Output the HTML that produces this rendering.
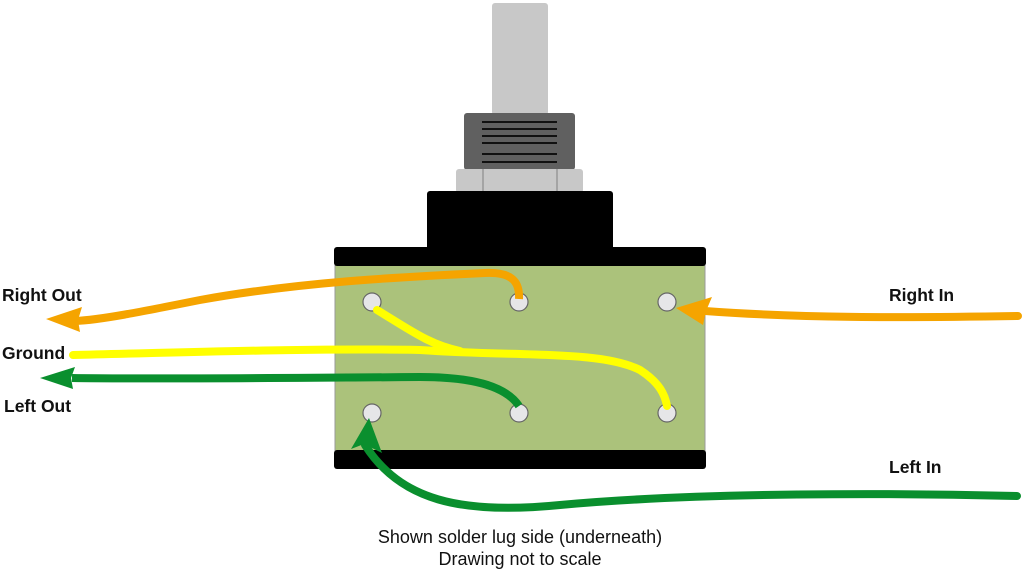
<!DOCTYPE html>
<html><head><meta charset="utf-8"><style>
body{margin:0;background:#fff;}
svg{display:block}
text{font-family:"Liberation Sans",sans-serif;}
</style></head><body>
<svg width="1024" height="571" viewBox="0 0 1024 571" xmlns="http://www.w3.org/2000/svg">
<rect width="1024" height="571" fill="#fff"/>
<rect x="492" y="3" width="56" height="112" rx="3" fill="#c8c8c8"/>
<rect x="464" y="113" width="111" height="57" rx="3" fill="#606060"/>
<g stroke="#111" stroke-width="2">
<line x1="482" y1="122" x2="557" y2="122"/><line x1="482" y1="129" x2="557" y2="129"/>
<line x1="482" y1="136" x2="557" y2="136"/><line x1="482" y1="143" x2="557" y2="143"/>
<line x1="482" y1="154" x2="557" y2="154"/><line x1="482" y1="162" x2="557" y2="162"/>
</g>
<rect x="456" y="169" width="127" height="24" rx="3" fill="#c8c8c8"/>
<line x1="483" y1="169" x2="483" y2="193" stroke="#999" stroke-width="1.5"/>
<line x1="557" y1="169" x2="557" y2="193" stroke="#999" stroke-width="1.5"/>
<rect x="427" y="191" width="186" height="62" rx="3" fill="#000"/>
<rect x="335" y="262" width="370" height="192" fill="#abc27b" stroke="#999" stroke-width="1"/>
<rect x="334" y="247" width="372" height="19" rx="3" fill="#000"/>
<rect x="334" y="450" width="372" height="19" rx="3" fill="#000"/>
<g fill="#e6e6e8" stroke="#666" stroke-width="1.2">
<circle cx="372" cy="302" r="9"/><circle cx="519" cy="302" r="9"/><circle cx="667" cy="302" r="9"/>
<circle cx="372" cy="413" r="9"/><circle cx="519" cy="413" r="9"/><circle cx="667" cy="413" r="9"/>
</g>
<g fill="none" stroke-width="8" stroke-linecap="round">
<path d="M519 299 C520 280 510 272 485 273 C400 277 300 282 200 300 C140 312 100 320 75 321" stroke="#f5a400" stroke-linecap="butt"/>
<path d="M1018 316 C900 318 800 318 705 311" stroke="#f5a400"/>
<path d="M73 355 C200 352 320 348 420 350 C520 357 600 350 640 370 C660 383 665 395 667 406" stroke="#ffff00"/>
<path d="M377 310 C410 330 430 345 460 351" stroke="#ffff00"/>
<path d="M519 406 C505 385 470 377 420 377 C300 378 150 379 72 378" stroke="#0a8f2e" stroke-linecap="butt"/>
<path d="M1017 496 C900 493 700 492 560 505 C460 515 400 500 365 445" stroke="#0a8f2e"/>
</g>
<polygon points="46,319 82,307 78,320 80,332" fill="#f5a400"/>
<polygon points="40,378 75,367 71,378 73,389" fill="#0a8f2e"/>
<polygon points="676,308 712,297 706,311 703,325" fill="#f5a400"/>
<polygon points="369,418 351,449 364,444 382,453" fill="#0a8f2e"/>
<g font-weight="bold" font-size="17.5" fill="#111">
<text x="2" y="301">Right Out</text>
<text x="2" y="359">Ground</text>
<text x="4" y="412">Left Out</text>
<text x="889" y="301">Right In</text>
<text x="889" y="473">Left In</text>
</g>
<g font-size="18" fill="#111" text-anchor="middle">
<text x="520" y="543">Shown solder lug side (underneath)</text>
<text x="520" y="565">Drawing not to scale</text>
</g>
</svg>
</body></html>
